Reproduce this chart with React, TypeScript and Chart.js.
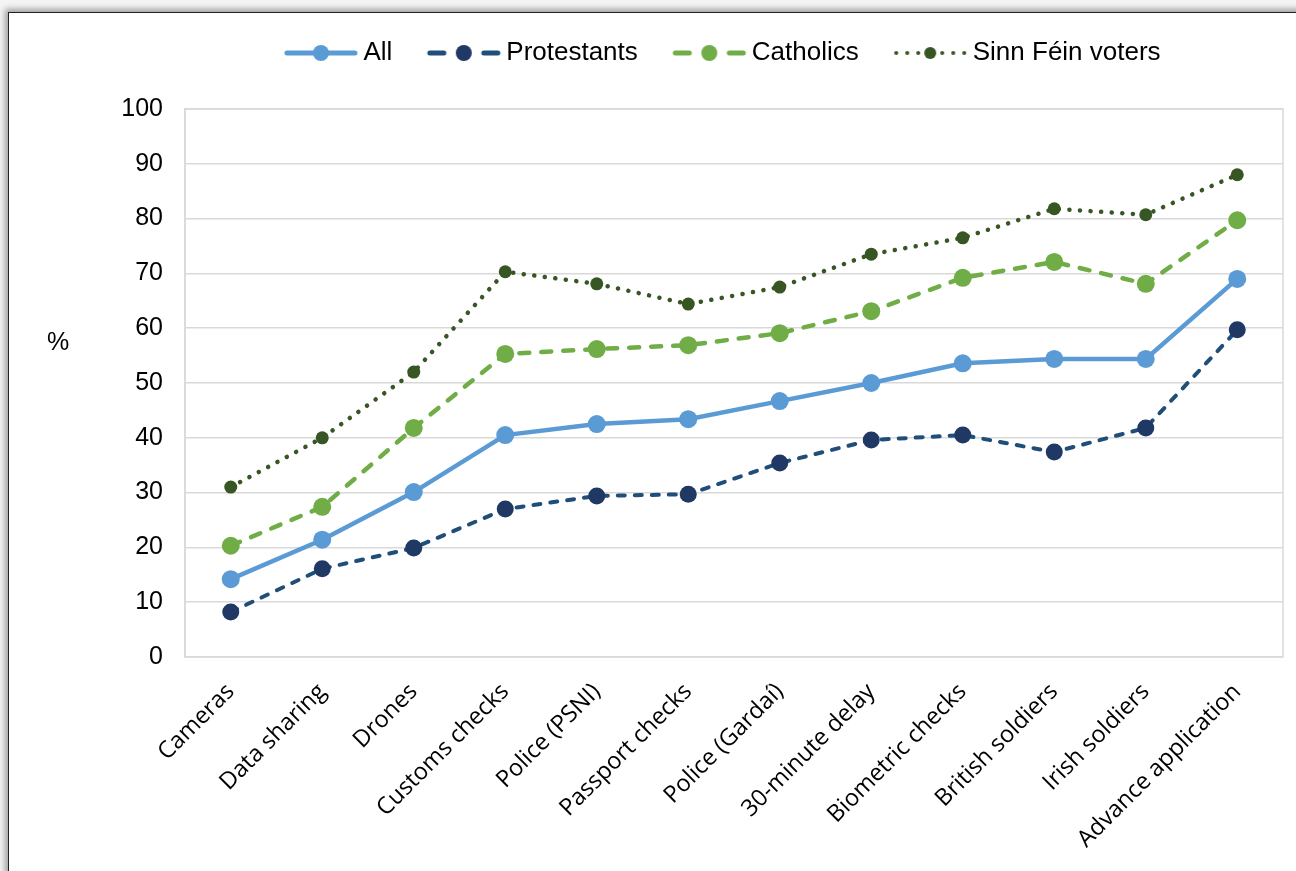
import React, { useEffect, useRef } from "react";
import { Chart, registerables } from "chart.js";

Chart.register(...registerables);

const categories = [
  "Cameras", "Data sharing", "Drones", "Customs checks", "Police (PSNI)", "Passport checks",
  "Police (Gardaí)", "30-minute delay", "Biometric checks", "British soldiers", "Irish soldiers", "Advance application",
];
const allValues = [14.2, 21.4, 30.1, 40.5, 42.5, 43.4, 46.7, 50.0, 53.6, 54.4, 54.4, 69.0];
const protestantValues = [8.2, 16.1, 19.9, 27.0, 29.4, 29.7, 35.4, 39.6, 40.5, 37.4, 41.8, 59.7];
const catholicValues = [20.3, 27.4, 41.8, 55.3, 56.2, 56.9, 59.1, 63.1, 69.2, 72.1, 68.1, 79.7];
const sinnFeinValues = [31.0, 40.0, 52.0, 70.3, 68.1, 64.4, 67.5, 73.5, 76.5, 81.8, 80.7, 88.0];
const yTicks = [0, 10, 20, 30, 40, 50, 60, 70, 80, 90, 100];

function makeSample(kind: string, line: string, point: string, width: number, radius: number) {
  const c = document.createElement("canvas");
  c.width = 90;
  c.height = 22;
  const ctx = c.getContext("2d")!;
  const x0 = 17, x1 = 85, cx = (x0 + x1) / 2, y = 11;
  ctx.strokeStyle = line;
  ctx.fillStyle = line;
  ctx.lineWidth = width;
  ctx.lineCap = "round";
  const seg = (a: number, b: number) => {
    ctx.beginPath();
    ctx.moveTo(a, y);
    ctx.lineTo(b, y);
    ctx.stroke();
  };
  if (kind === "solid") {
    seg(x0, x1);
  } else if (kind === "dash") {
    seg(x0, x0 + 14);
    seg(x1 - 14, x1);
  } else {
    [12, 23, 34].forEach((d) => {
      ctx.beginPath();
      ctx.arc(cx - d, y, width / 2, 0, Math.PI * 2);
      ctx.fill();
      ctx.beginPath();
      ctx.arc(cx + d, y, width / 2, 0, Math.PI * 2);
      ctx.fill();
    });
  }
  ctx.fillStyle = point;
  ctx.beginPath();
  ctx.arc(cx, y, radius, 0, Math.PI * 2);
  ctx.fill();
  return c;
}

const frameRect = {
  id: "frameRect",
  beforeDatasetsDraw(chart: any) {
    const { ctx, chartArea } = chart;
    ctx.save();
    ctx.strokeStyle = "#D9D9D9";
    ctx.lineWidth = 1.5;
    ctx.strokeRect(chartArea.left, chartArea.top, chartArea.right - chartArea.left, chartArea.bottom - chartArea.top);
    ctx.restore();
  },
};

const percentLabel = {
  id: "percentLabel",
  afterDraw(chart: any) {
    const { ctx } = chart;
    ctx.save();
    ctx.fillStyle = "#000";
    ctx.font = "25px 'Liberation Sans', Arial, sans-serif";
    ctx.textAlign = "center";
    ctx.textBaseline = "middle";
    ctx.fillText("%", 58, 343);
    ctx.restore();
  },
};

const legendTweak = {
  id: "legendTweak",
  beforeInit(chart: any) {
    const lg = chart.legend;
    if (!lg) return;
    const orig = lg.fit;
    lg.fit = function () {
      orig.call(this);
      this.height = 99;
    };
  },
  beforeDraw(chart: any) {
    const lg = chart.legend;
    if (lg) lg.left = 157;
  },
};

export default function App() {
  const ref = useRef<HTMLCanvasElement>(null);
  useEffect(() => {
    const samples = [
      makeSample("solid", "#5B9BD5", "#5B9BD5", 5, 8),
      makeSample("dash", "#1F4E79", "#203864", 5, 8),
      makeSample("dash", "#70AD47", "#70AD47", 5, 8),
      makeSample("dot", "#375623", "#375623", 4, 6),
    ];
    const chart = new Chart(ref.current!, {
      type: "line",
      data: {
        labels: categories,
        datasets: [
          {
            label: "All", data: allValues, borderColor: "#5B9BD5", backgroundColor: "#5B9BD5",
            borderWidth: 4.5, pointRadius: 9, pointBorderWidth: 0, pointBackgroundColor: "#5B9BD5",
            borderCapStyle: "round",
          },
          {
            label: "Protestants", data: protestantValues, borderColor: "#1F4E79", backgroundColor: "#203864",
            borderWidth: 4, borderDash: [7, 10], pointRadius: 8.5, pointBorderWidth: 0, pointBackgroundColor: "#203864",
            borderCapStyle: "round",
          },
          {
            label: "Catholics", data: catholicValues, borderColor: "#70AD47", backgroundColor: "#70AD47",
            borderWidth: 4.5, borderDash: [10, 12], pointRadius: 9, pointBorderWidth: 0, pointBackgroundColor: "#70AD47",
            borderCapStyle: "round",
          },
          {
            label: "Sinn Féin voters", data: sinnFeinValues, borderColor: "#375623", backgroundColor: "#375623",
            borderWidth: 4.5, borderDash: [0.1, 10.5], pointRadius: 6.5, pointBorderWidth: 0, pointBackgroundColor: "#375623",
            borderCapStyle: "round",
          },
        ],
      },
      options: {
        animation: false,
        responsive: false,
        maintainAspectRatio: false,
        layout: { padding: { left: 0, right: 13, top: 10, bottom: 0 } },
        plugins: {
          tooltip: { enabled: false },
          legend: {
            position: "top",
            fullSize: true,
            labels: {
              usePointStyle: true,
              pointStyleWidth: 71,
              boxHeight: 22,
              padding: 30,
              color: "#000",
              font: { family: "'Liberation Sans', Arial, sans-serif", size: 26 },
              generateLabels(ch: any) {
                const items = Chart.defaults.plugins.legend.labels.generateLabels(ch);
                return items.map((it: any, i: number) => ({ ...it, pointStyle: samples[i], lineWidth: 0 }));
              },
            },
          },
        },
        scales: {
          x: {
            offset: true,
            grid: { display: false, drawTicks: false },
            border: { display: false },
            ticks: {
              minRotation: 45, maxRotation: 45, autoSkip: false, padding: 21,
              color: "#000",
              font: { family: "'Open Sans', sans-serif", size: 23.5 },
            },
            afterFit(scale: any) { scale.height = 214; },
          },
          y: {
            min: 0, max: 100,
            afterBuildTicks(scale: any) { scale.ticks = yTicks.map((v) => ({ value: v })); },
            grid: { color: "#D9D9D9", lineWidth: 1.5, drawTicks: false },
            border: { display: true, color: "#D9D9D9", width: 1.5 },
            ticks: {
              padding: 22,
              color: "#000",
              font: { family: "'Liberation Sans', Arial, sans-serif", size: 25 },
            },
            afterFit(scale: any) { scale.width = 185; },
          },
        },
      },
      plugins: [legendTweak, frameRect, percentLabel],
    });
    return () => chart.destroy();
  }, []);

  return (
    <div style={{ position: "fixed", left: 0, top: 0, width: 1296, height: 871, overflow: "hidden", background: "#f4f4f4" }}>
      <div style={{
        position: "absolute", left: 8, top: 12, width: 1400, height: 1000, background: "#fff",
        border: "1.5px solid #222", boxShadow: "-3px -3px 6px rgba(0,0,0,0.35)",
      }} />
      <canvas ref={ref} width={1296} height={871} style={{ position: "absolute", left: 0, top: 0, width: 1296, height: 871 }} />
    </div>
  );
}
